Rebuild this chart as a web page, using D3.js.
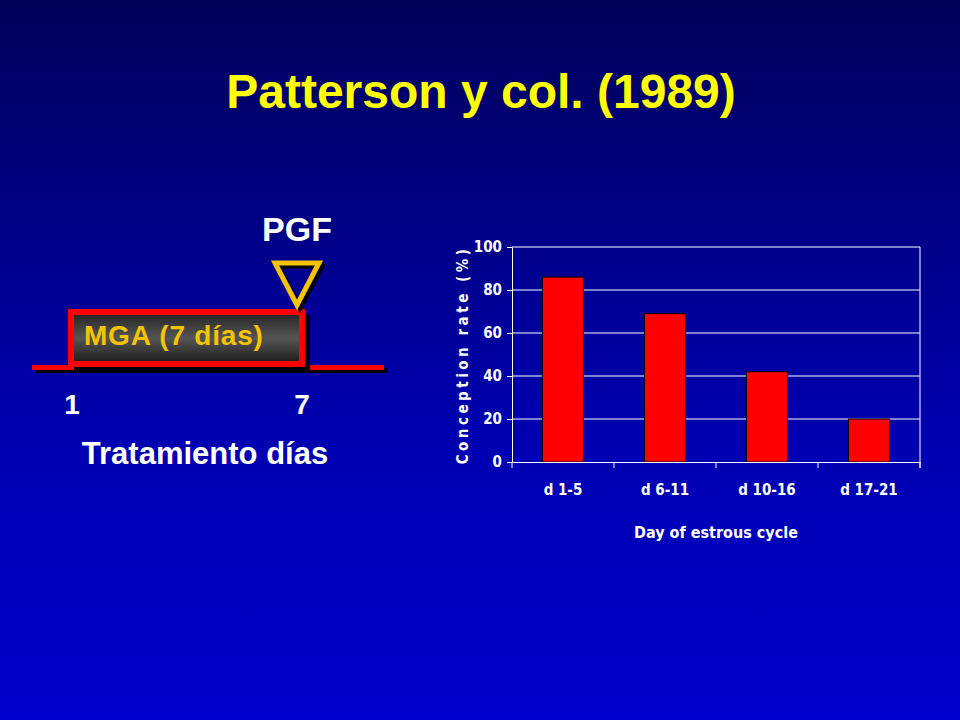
<!DOCTYPE html>
<html><head><meta charset="utf-8">
<script src="https://cdn.jsdelivr.net/npm/d3@7"></script>
<style>body{margin:0;background:#000}</style></head><body>
<script>
const categories = ["d 1-5", "d 6-11", "d 10-16", "d 17-21"];
const values = [86, 69, 42, 20];
const yTicks = [0, 20, 40, 60, 80, 100];
const dayLabels = [1, 7];

const W = 960, H = 720;
const svg = d3.select("body").append("svg").attr("width", W).attr("height", H);
const defs = svg.append("defs");
const bg = defs.append("linearGradient").attr("id","bg").attr("x1",0).attr("y1",0).attr("x2",0).attr("y2",1);
bg.append("stop").attr("offset","0%").attr("stop-color","#000058");
bg.append("stop").attr("offset","60%").attr("stop-color","#0000b0");
bg.append("stop").attr("offset","100%").attr("stop-color","#0000cc");
svg.append("rect").attr("width",W).attr("height",H).attr("fill","url(#bg)");
const bx = defs.append("linearGradient").attr("id","box").attr("x1",0).attr("y1",0).attr("x2",0).attr("y2",1);
bx.append("stop").attr("offset","0%").attr("stop-color","#222");
bx.append("stop").attr("offset","50%").attr("stop-color","#555");
bx.append("stop").attr("offset","100%").attr("stop-color","#1a1a1a");

const F = "'Liberation Sans', Arial, sans-serif";
const FN = "'Liberation Sans Narrow', 'DejaVu Sans Condensed', 'Liberation Sans', sans-serif";

svg.append("text").attr("x",481).attr("y",108).attr("text-anchor","middle")
  .attr("font-family",F).attr("font-weight","bold").attr("font-size",48).attr("fill","#ffff00")
  .text("Patterson y col. (1989)");

// Left diagram
const dx = d3.scaleLinear().domain([1,7]).range([72,302]);
const g = svg.append("g");
g.append("rect").attr("x",36).attr("y",368).attr("width",352).attr("height",5).attr("fill","#000");
g.append("rect").attr("x",32).attr("y",365).attr("width",352).attr("height",5).attr("fill","#f00");
g.append("rect").attr("x",74).attr("y",315).attr("width",236).attr("height",55).attr("fill","#000");
g.append("rect").attr("x",71).attr("y",312).attr("width",231).attr("height",52).attr("fill","url(#box)")
  .attr("stroke","#f00").attr("stroke-width",6);
g.append("text").attr("x",84).attr("y",345).attr("font-family",F).attr("font-weight","bold")
  .attr("font-size",28).attr("letter-spacing",0.8).attr("fill","#f5c400").text("MGA (7 días)");
const tri = [[275,263],[319,263],[297,305]];
g.append("polygon").attr("points",tri.map(p=>[p[0]+3,p[1]+3].join(",")).join(" "))
  .attr("fill","none").attr("stroke","#000").attr("stroke-width",5);
g.append("polygon").attr("points",tri.map(p=>p.join(",")).join(" "))
  .attr("fill","none").attr("stroke","#f5c400").attr("stroke-width",5);
g.append("text").attr("x",297).attr("y",241).attr("text-anchor","middle").attr("font-family",F)
  .attr("font-weight","bold").attr("font-size",34).attr("fill","#fff").text("PGF");
g.selectAll(".dl").data(dayLabels).enter().append("text").attr("x",d=>dx(d)).attr("y",414)
  .attr("text-anchor","middle").attr("font-family",F).attr("font-weight","bold")
  .attr("font-size",28).attr("fill","#fff").text(d=>d);
g.append("text").attr("x",205).attr("y",464).attr("text-anchor","middle").attr("font-family",F)
  .attr("font-weight","bold").attr("font-size",31).attr("fill","#fff").text("Tratamiento días");

// Bar chart
const x0 = 512, x1 = 920, yTop = 247, yBot = 462;
const x = d3.scaleBand().domain(categories).range([x0,x1]).paddingInner(0).paddingOuter(0);
const y = d3.scaleLinear().domain([0,100]).range([yBot,yTop]);
const c = svg.append("g");
c.selectAll(".grid").data(yTicks.filter(t=>t>0)).enter().append("line")
  .attr("x1",x0).attr("x2",x1).attr("y1",d=>y(d)).attr("y2",d=>y(d)).attr("stroke","#fff").attr("stroke-width",1);
c.append("line").attr("x1",x1).attr("x2",x1).attr("y1",yTop).attr("y2",yBot+6).attr("stroke","#fff");
const bw = 41;
c.selectAll(".bar").data(values).enter().append("rect")
  .attr("x",(d,i)=>x(categories[i])+x.bandwidth()/2-bw/2)
  .attr("y",d=>y(d)).attr("width",bw).attr("height",d=>yBot-y(d))
  .attr("fill","#ff0000").attr("stroke","#000").attr("stroke-width",1);
const ya = c.append("g").attr("transform",`translate(${x0},0)`)
  .call(d3.axisLeft(y).tickValues(yTicks).tickSize(5).tickSizeOuter(0));
const xa = c.append("g").attr("transform",`translate(0,${yBot})`)
  .call(d3.axisBottom(x).tickSize(0).tickSizeOuter(0));
[ya,xa].forEach(a=>{a.select(".domain").attr("stroke","#fff");
  a.selectAll("line").attr("stroke","#fff");
  a.selectAll("text").attr("fill","#fff").attr("font-family",FN).attr("font-weight","bold").attr("font-size",15);});
ya.selectAll("text").attr("dx",-2);
xa.selectAll("text").attr("dy",30);
c.selectAll(".xt").data(d3.range(categories.length+1)).enter().append("line")
  .attr("x1",i=>x0+i*x.bandwidth()).attr("x2",i=>x0+i*x.bandwidth())
  .attr("y1",yBot).attr("y2",yBot+6).attr("stroke","#fff");
c.append("text").attr("x",716).attr("y",538).attr("text-anchor","middle").attr("font-family",FN)
  .attr("font-weight","bold").attr("font-size",16).attr("fill","#fff").text("Day of estrous cycle");
c.append("text").attr("transform","translate(468,355) rotate(-90)").attr("text-anchor","middle")
  .attr("font-family",FN).attr("font-weight","bold").attr("font-size",15).attr("letter-spacing",3.5)
  .attr("fill","#fff").text("Conception rate (%)");
</script></body></html>
